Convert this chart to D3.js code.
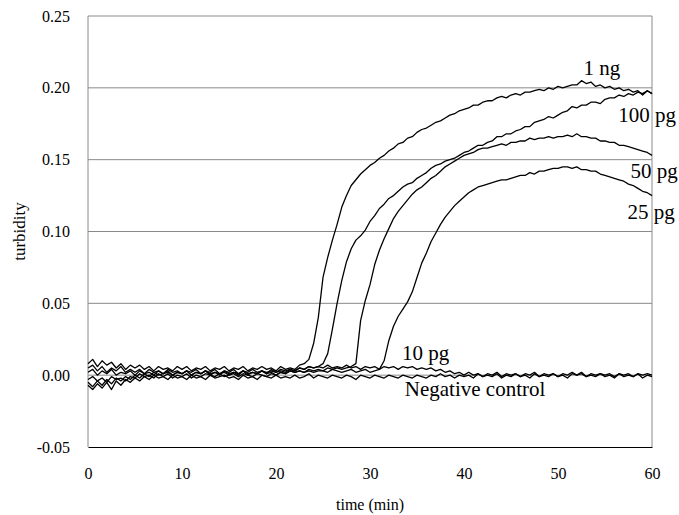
<!DOCTYPE html>
<html>
<head>
<meta charset="utf-8">
<script src="https://cdn.jsdelivr.net/npm/d3@7"></script>
<style>
  body { margin: 0; background: #fff; }
  svg text { font-family: "Liberation Serif", "Times New Roman", serif; fill: #000; }
</style>
</head>
<body>
<svg id="chart" width="679" height="515"></svg>
<script>
// Sampling times (min), one reading every 0.5 min.
var times = d3.range(0, 60.25, 0.5);

// Turbidity readings, one row per 5 min.
var oneNg = [
  0.008, 0.011, 0.006, 0.010, 0.007, 0.009, 0.005, 0.008, 0.004, 0.007,
  0.005, 0.007, 0.004, 0.006, 0.003, 0.006, 0.004, 0.005, 0.003, 0.006,
  0.004, 0.006, 0.003, 0.005, 0.004, 0.006, 0.003, 0.005, 0.004, 0.006,
  0.003, 0.005, 0.004, 0.006, 0.003, 0.005, 0.004, 0.006, 0.004, 0.005,
  0.003, 0.006, 0.004, 0.005, 0.004, 0.007, 0.008, 0.011, 0.022, 0.040,
  0.068, 0.082, 0.094, 0.105, 0.117, 0.125, 0.132, 0.136, 0.140, 0.143,
  0.146, 0.148, 0.151, 0.153, 0.156, 0.158, 0.161, 0.162, 0.165, 0.166,
  0.169, 0.171, 0.172, 0.174, 0.176, 0.177, 0.179, 0.181, 0.182, 0.184,
  0.185, 0.186, 0.188, 0.188, 0.190, 0.191, 0.191, 0.193, 0.194, 0.193,
  0.195, 0.196, 0.195, 0.197, 0.197, 0.198, 0.199, 0.198, 0.200, 0.199,
  0.201, 0.200, 0.201, 0.202, 0.202, 0.205, 0.203, 0.204, 0.201, 0.202,
  0.200, 0.201, 0.199, 0.200, 0.198, 0.199, 0.197, 0.198, 0.195, 0.198,
  0.196
];

var pg100 = [
  0.005, 0.007, 0.003, 0.006, 0.002, 0.005, 0.003, 0.006, 0.002, 0.004,
  0.002, 0.004, 0.001, 0.004, 0.002, 0.003, 0.001, 0.004, 0.002, 0.003,
  0.001, 0.003, 0.002, 0.004, 0.001, 0.003, 0.002, 0.004, 0.001, 0.003,
  0.002, 0.004, 0.001, 0.003, 0.002, 0.004, 0.002, 0.003, 0.001, 0.004,
  0.002, 0.003, 0.002, 0.004, 0.003, 0.005, 0.004, 0.006, 0.005, 0.006,
  0.008, 0.015, 0.032, 0.050, 0.066, 0.079, 0.088, 0.094, 0.097, 0.101,
  0.107, 0.111, 0.116, 0.119, 0.123, 0.125, 0.128, 0.131, 0.133, 0.134,
  0.137, 0.139, 0.141, 0.144, 0.146, 0.147, 0.149, 0.150, 0.151, 0.153,
  0.155, 0.156, 0.158, 0.160, 0.160, 0.162, 0.163, 0.166, 0.166, 0.168,
  0.168, 0.170, 0.171, 0.173, 0.173, 0.176, 0.177, 0.178, 0.180, 0.179,
  0.181, 0.183, 0.184, 0.187, 0.186, 0.188, 0.188, 0.190, 0.190, 0.189,
  0.192, 0.193, 0.193, 0.195, 0.194, 0.196, 0.195, 0.197, 0.196, 0.198,
  0.196
];

var pg50 = [
  0.002, 0.004, 0.000, 0.003, 0.001, 0.004, 0.000, 0.002, 0.001, 0.003,
  0.000, 0.003, 0.001, 0.002, 0.000, 0.003, 0.001, 0.002, 0.000, 0.002,
  0.001, 0.003, 0.000, 0.002, 0.001, 0.003, 0.000, 0.002, 0.001, 0.002,
  0.000, 0.002, 0.001, 0.003, 0.000, 0.002, 0.001, 0.003, 0.001, 0.002,
  0.000, 0.002, 0.001, 0.003, 0.002, 0.003, 0.002, 0.004, 0.003, 0.004,
  0.003, 0.005, 0.004, 0.005, 0.004, 0.005, 0.006, 0.008, 0.038, 0.052,
  0.063, 0.077, 0.087, 0.095, 0.102, 0.109, 0.114, 0.118, 0.122, 0.126,
  0.129, 0.131, 0.134, 0.137, 0.139, 0.142, 0.145, 0.147, 0.149, 0.151,
  0.153, 0.154, 0.155, 0.157, 0.158, 0.158, 0.159, 0.160, 0.161, 0.160,
  0.162, 0.162, 0.163, 0.163, 0.165, 0.164, 0.165, 0.165, 0.166, 0.165,
  0.166, 0.166, 0.167, 0.166, 0.168, 0.166, 0.166, 0.165, 0.165, 0.163,
  0.163, 0.162, 0.162, 0.160, 0.160, 0.159, 0.158, 0.157, 0.156, 0.155,
  0.153
];

var pg25 = [
  -0.003, -0.001, -0.004, -0.002, -0.005, -0.001, -0.003, -0.002, -0.004, -0.001,
  -0.002, 0.001, -0.001, 0.000, -0.002, 0.001, -0.001, 0.001, -0.002, 0.000,
  -0.001, 0.001, -0.002, 0.000, -0.001, 0.001, 0.000, -0.001, 0.001, -0.001,
  0.000, 0.001, -0.001, 0.001, 0.000, -0.001, 0.001, 0.000, -0.001, 0.001,
  0.000, 0.002, 0.001, 0.003, 0.002, 0.003, 0.002, 0.003, 0.002, 0.003,
  0.003, 0.002, 0.004, 0.003, 0.002, 0.003, 0.004, 0.002, 0.003, 0.004,
  0.002, 0.003, 0.004, 0.010, 0.024, 0.034, 0.041, 0.046, 0.051, 0.058,
  0.068, 0.078, 0.085, 0.093, 0.099, 0.105, 0.110, 0.114, 0.118, 0.121,
  0.124, 0.127, 0.129, 0.131, 0.132, 0.133, 0.134, 0.135, 0.136, 0.136,
  0.137, 0.138, 0.139, 0.139, 0.141, 0.140, 0.142, 0.142, 0.143, 0.144,
  0.144, 0.145, 0.145, 0.144, 0.145, 0.143, 0.143, 0.142, 0.142, 0.140,
  0.139, 0.138, 0.137, 0.136, 0.135, 0.133, 0.132, 0.130, 0.128, 0.127,
  0.125
];

var pg10 = [
  -0.005, -0.008, -0.004, -0.007, -0.003, -0.006, -0.002, -0.004, -0.001, -0.003,
  0.000, -0.002, 0.001, -0.001, 0.002, 0.000, 0.001, 0.003, 0.000, 0.002,
  0.001, 0.003, 0.000, 0.002, 0.001, 0.003, 0.001, 0.002, 0.000, 0.003,
  0.001, 0.002, 0.000, 0.003, 0.001, 0.002, 0.001, 0.003, 0.002, 0.003,
  0.002, 0.004, 0.003, 0.004, 0.003, 0.005, 0.004, 0.006, 0.005, 0.006,
  0.005, 0.007, 0.005, 0.006, 0.005, 0.007, 0.005, 0.006, 0.004, 0.006,
  0.005, 0.006, 0.004, 0.006, 0.005, 0.006, 0.004, 0.006, 0.005, 0.006,
  0.004, 0.005, 0.004, 0.005, 0.003, 0.004, 0.002, 0.003, 0.001, 0.002,
  0.000, 0.002, 0.000, 0.001, -0.001, 0.001, 0.000, 0.002, -0.001, 0.001,
  0.000, 0.001, -0.001, 0.001, 0.000, 0.002, -0.001, 0.001, 0.000, 0.001,
  -0.001, 0.001, 0.000, 0.002, 0.000, 0.001, -0.001, 0.001, 0.000, 0.001,
  0.000, 0.001, -0.001, 0.001, 0.000, 0.001, -0.001, 0.001, 0.000, 0.001,
  0.000
];

var negative = [
  -0.007, -0.010, -0.006, -0.009, -0.005, -0.010, -0.004, -0.007, -0.003, -0.005,
  -0.002, -0.004, -0.001, -0.003, 0.000, -0.002, -0.001, -0.003, 0.000, -0.002,
  -0.001, -0.003, 0.000, -0.002, -0.001, -0.003, 0.000, -0.002, -0.001, 0.000,
  -0.002, -0.001, -0.003, 0.000, -0.002, -0.001, -0.003, 0.000, -0.001, -0.002,
  0.000, -0.002, -0.001, -0.002, 0.000, -0.002, -0.001, 0.001, -0.002, 0.000,
  -0.001, -0.002, 0.000, -0.001, -0.002, 0.000, -0.001, -0.003, 0.000, -0.001,
  -0.002, 0.000, -0.001, -0.002, 0.000, -0.001, -0.002, 0.000, -0.001, -0.002,
  0.000, -0.001, -0.002, 0.000, -0.001, 0.001, -0.001, 0.000, -0.002, 0.000,
  -0.001, 0.000, -0.002, 0.001, -0.001, 0.000, -0.001, 0.001, -0.002, 0.000,
  -0.001, 0.001, -0.001, 0.000, -0.002, 0.001, -0.001, 0.000, -0.001, 0.001,
  -0.001, 0.000, -0.002, 0.001, 0.000, 0.002, -0.001, 0.000, -0.001, 0.001,
  -0.001, 0.000, -0.002, 0.001, -0.001, 0.000, -0.001, 0.001, -0.002, 0.000,
  -0.001
];

var seriesNames = ["Negative control", "10 pg", "25 pg", "50 pg", "100 pg", "1 ng"];
var seriesValues = [negative, pg10, pg25, pg50, pg100, oneNg];

var xTicks = [0, 10, 20, 30, 40, 50, 60];
var yTicks = [-0.05, 0, 0.05, 0.10, 0.15, 0.20, 0.25];

// Where each series name sits, in data units (time, turbidity).
var annotations = [
  { text: "1 ng", t: 52.7, v: 0.209 },
  { text: "100 pg", t: 56.4, v: 0.176 },
  { text: "50 pg", t: 57.7, v: 0.137 },
  { text: "25 pg", t: 57.4, v: 0.109 },
  { text: "10 pg", t: 33.4, v: 0.0105 },
  { text: "Negative control", t: 33.7, v: -0.0145 }
];

var margin = { top: 16, right: 27, bottom: 68, left: 88 };
var width = 679 - margin.left - margin.right;
var height = 515 - margin.top - margin.bottom;

var svg = d3.select("#chart");
var g = svg.append("g").attr("transform", "translate(" + margin.left + "," + margin.top + ")");

var x = d3.scaleLinear().domain([0, 60]).range([0, width]);
var y = d3.scaleLinear().domain([-0.05, 0.25]).range([height, 0]);

// Gray grid lines and frame.
g.selectAll("line.grid")
  .data(yTicks.slice(1))
  .enter()
  .append("line")
  .attr("class", "grid")
  .attr("x1", 0).attr("x2", width)
  .attr("y1", function(d) { return y(d); })
  .attr("y2", function(d) { return y(d); })
  .attr("stroke", "#8a8a8a")
  .attr("stroke-width", 1);

g.append("line")
  .attr("x1", 0).attr("x2", 0).attr("y1", 0).attr("y2", height)
  .attr("stroke", "#8a8a8a");
g.append("line")
  .attr("x1", width).attr("x2", width).attr("y1", 0).attr("y2", height)
  .attr("stroke", "#8a8a8a");

// Axes without tick marks; keep a plain hyphen for the minus sign.
var fmtY = function(d) { return d3.format(".2f")(d).replace("\u2212", "-"); };

var xAxis = g.append("g")
  .attr("transform", "translate(0," + height + ")")
  .call(d3.axisBottom(x).tickValues(xTicks).tickSize(0).tickPadding(21).tickFormat(d3.format("d")))
  .attr("font-family", "Liberation Serif")
  .attr("font-size", 16);
xAxis.select(".domain").attr("stroke", "#000").attr("stroke-width", 1.2);

var yAxis = g.append("g")
  .call(d3.axisLeft(y).tickValues(yTicks).tickSize(0).tickPadding(18).tickFormat(fmtY))
  .attr("font-family", "Liberation Serif")
  .attr("font-size", 16);
yAxis.select(".domain").remove();

// Curves.
var line = d3.line()
  .x(function(d, i) { return x(times[i]); })
  .y(function(d) { return y(d); });

g.selectAll("path.trace")
  .data(seriesValues)
  .enter()
  .append("path")
  .attr("class", "trace")
  .attr("fill", "none")
  .attr("stroke", "#000")
  .attr("stroke-width", 1.3)
  .attr("stroke-linejoin", "round")
  .attr("d", line);

// Series names.
g.selectAll("text.label")
  .data(annotations)
  .enter()
  .append("text")
  .attr("class", "label")
  .attr("x", function(d) { return x(d.t); })
  .attr("y", function(d) { return y(d.v); })
  .attr("font-size", 21)
  .text(function(d) { return d.text; });

// Axis titles.
svg.append("text")
  .attr("x", margin.left + width / 2)
  .attr("y", 510)
  .attr("text-anchor", "middle")
  .attr("font-size", 16)
  .text("time (min)");

svg.append("text")
  .attr("transform", "translate(25," + (margin.top + height / 2) + ") rotate(-90)")
  .attr("text-anchor", "middle")
  .attr("font-size", 17)
  .text("turbidity");
</script>
</body>
</html>
